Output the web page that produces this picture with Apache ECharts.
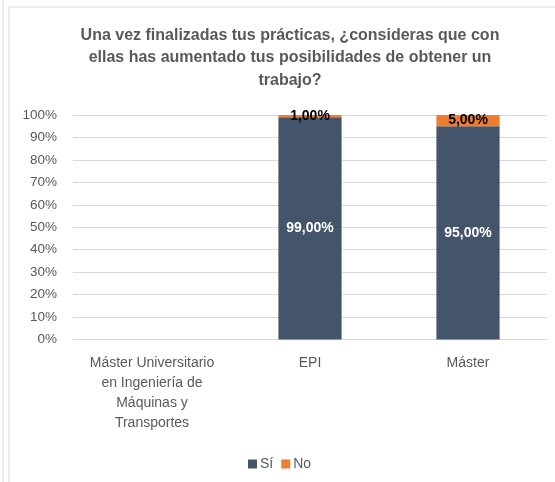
<!DOCTYPE html>
<html>
<head>
<meta charset="utf-8">
<script src="https://cdn.jsdelivr.net/npm/echarts@6/dist/echarts.min.js"></script>
<style>
html,body{margin:0;padding:0;background:#fff;}
#c{width:555px;height:482px;}
</style>
</head>
<body>
<div id="c"></div>
<script>
const titleText = 'Una vez finalizadas tus prácticas, ¿consideras que con\nellas has aumentado tus posibilidades de obtener un\ntrabajo?';
const categories = ['Máster Universitario\nen Ingeniería de\nMáquinas y\nTransportes', 'EPI', 'Máster'];
const yTicks = [0, 10, 20, 30, 40, 50, 60, 70, 80, 90, 100];
const siValues = [null, 99, 95];
const noValues = [null, 1, 5];
const seriesNames = ['Sí', 'No'];
const colors = ['#44546A', '#ED7D31'];

const FONT = 'Liberation Sans';
const fmt = v => v.toFixed(2).replace('.', ',') + '%';

const chart = echarts.init(document.getElementById('c'), null, {renderer: 'canvas'});
chart.setOption({
  animation: false,
  textStyle: {fontFamily: FONT},
  graphic: [
    {type: 'rect', shape: {x: 9, y: 7, width: 700, height: 700}, style: {fill: 'none', stroke: '#d9d9d9', lineWidth: 1}, silent: true},
    {type: 'line', shape: {x1: 3, y1: 0, x2: 3, y2: 482}, style: {stroke: '#d9d9d9', lineWidth: 1}, silent: true},
    {type: 'text', x: 290, y: 24, silent: true,
      style: {text: titleText, align: 'center', verticalAlign: 'top', fontFamily: FONT, fontSize: 16, fontWeight: 'bold', fill: '#595959', lineHeight: 22.5}}
  ],
  legend: {
    data: seriesNames,
    left: 243,
    top: 452,
    itemWidth: 9,
    itemHeight: 9,
    itemGap: 8,
    icon: 'rect',
    textStyle: {fontFamily: FONT, fontSize: 14, color: '#595959', padding: [0, 0, 0, -2]}
  },
  grid: {left: 73, right: 8, top: 115, bottom: 142.5, containLabel: false},
  xAxis: {
    type: 'category',
    data: categories,
    axisLine: {lineStyle: {color: '#d9d9d9'}},
    axisTick: {show: false},
    axisLabel: {fontFamily: FONT, fontSize: 14, color: '#595959', lineHeight: 20, margin: 14, interval: 0}
  },
  yAxis: {
    type: 'value',
    min: 0,
    max: 100,
    interval: 10,
    axisLine: {show: false},
    axisTick: {show: false},
    splitLine: {lineStyle: {color: '#d9d9d9'}},
    axisLabel: {fontFamily: FONT, fontSize: 13.5, color: '#595959', margin: 16,
      formatter: v => yTicks.includes(v) ? v + '%' : ''}
  },
  series: [
    {
      name: seriesNames[0], type: 'bar', stack: 'total', data: siValues, barWidth: '40%',
      itemStyle: {color: colors[0]},
      label: {show: true, position: 'inside', color: '#ffffff', fontWeight: 'bold', fontSize: 14, fontFamily: FONT,
        formatter: p => p.value == null ? '' : fmt(p.value)}
    },
    {
      name: seriesNames[1], type: 'bar', stack: 'total', data: noValues, barWidth: '40%',
      itemStyle: {color: colors[1]},
      label: {show: true, position: 'inside', color: '#000000', fontWeight: 'bold', fontSize: 14, fontFamily: FONT,
        formatter: p => p.value == null ? '' : fmt(p.value)}
    }
  ]
});
</script>
</body>
</html>
